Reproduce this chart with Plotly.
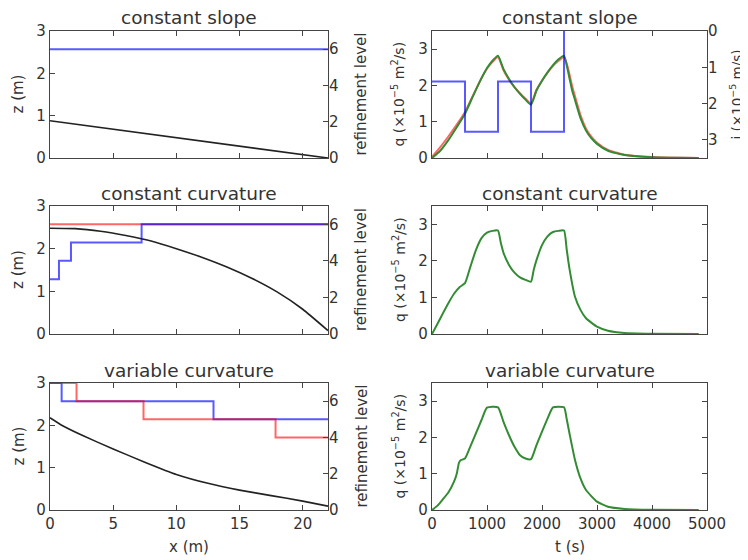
import plotly.graph_objects as go

# profils de pente : x (m), z (m)
x_slope = [0, 22]
z_slope = [0.88, 0.0]
x_curv = [0, 2, 4, 6, 8, 10, 12, 14, 16, 18, 20, 22]
z_curv = [2.48, 2.47, 2.41, 2.31, 2.18, 2.00, 1.80, 1.57, 1.30, 0.98, 0.58, 0.08]
x_var = [0, 1, 2.5, 5, 7.5, 10, 12.5, 15, 17.5, 20, 22]
z_var = [2.18, 1.99, 1.77, 1.44, 1.13, 0.84, 0.63, 0.47, 0.34, 0.21, 0.09]

# niveaux de raffinement (marches)
lev_slope_x = [0, 22]
lev_slope_blue = [6, 6]
lev_curv_red_x = [0, 22]
lev_curv_red = [6, 6]
lev_curv_blue_x = [0, 0.71, 1.66, 7.25, 22]
lev_curv_blue = [3, 4, 5, 6, 6]
lev_var_blue_x = [0, 0.92, 12.94, 22]
lev_var_blue = [7, 6, 5, 5]
lev_var_red_x = [0, 2.1, 7.4, 17.85, 22]
lev_var_red = [7, 6, 5, 4, 4]

# pluie (x1e-5 m/s)
t_rain = [0, 600, 1200, 1800, 2400]
i_rain = [1.39, 2.78, 1.39, 2.78, 0]

# hydrogrammes q (x1e-5 m2/s)
t_slope = [0, 150, 300, 450, 600, 750, 900, 1000, 1100, 1200, 1300, 1400, 1500,
           1600, 1700, 1800, 1900, 2000, 2100, 2200, 2300, 2400, 2450, 2500,
           2550, 2600, 2700, 2800, 2900, 3000, 3200, 3500, 4000, 4500, 4850]
q_slope_green = [0, 0.20, 0.50, 0.85, 1.22, 1.72, 2.20, 2.48, 2.68, 2.82, 2.45,
                 2.18, 1.95, 1.77, 1.61, 1.47, 1.86, 2.13, 2.36, 2.56, 2.72, 2.82,
                 2.55, 2.20, 1.85, 1.60, 1.10, 0.76, 0.54, 0.39, 0.20, 0.08, 0.02,
                 0.005, 0]
q_slope_red = [0.03, 0.30, 0.60, 0.92, 1.27, 1.74, 2.20, 2.46, 2.65, 2.78, 2.42,
               2.16, 1.95, 1.78, 1.63, 1.50, 1.88, 2.13, 2.35, 2.54, 2.68, 2.78,
               2.60, 2.30, 1.97, 1.70, 1.18, 0.81, 0.58, 0.42, 0.22, 0.09, 0.025,
               0.006, 0]

t_curv = [0, 100, 200, 300, 400, 500, 600, 700, 800, 900, 1000, 1100, 1200, 1250,
          1300, 1400, 1500, 1600, 1700, 1800, 1850, 1900, 2000, 2100, 2200, 2300,
          2400, 2450, 2500, 2600, 2700, 2800, 3000, 3200, 3500, 4000, 4850]
q_curv = [0, 0.28, 0.57, 0.85, 1.10, 1.28, 1.39, 1.85, 2.30, 2.62, 2.77, 2.82, 2.83,
          2.50, 2.22, 1.89, 1.68, 1.55, 1.48, 1.43, 1.76, 2.02, 2.43, 2.67, 2.79,
          2.82, 2.83, 2.30, 1.78, 1.02, 0.66, 0.43, 0.20, 0.09, 0.03, 0.01, 0]

t_var = [0, 100, 200, 300, 400, 450, 490, 520, 600, 700, 800, 900, 1000, 1200, 1300,
         1400, 1500, 1600, 1700, 1800, 1900, 2000, 2100, 2200, 2400, 2450, 2500,
         2600, 2700, 2800, 3000, 3200, 3500, 4000, 4850]
q_var = [0, 0.12, 0.30, 0.49, 0.78, 1.00, 1.30, 1.37, 1.42, 1.76, 2.12, 2.48, 2.82,
         2.83, 2.43, 2.06, 1.74, 1.51, 1.42, 1.40, 1.79, 2.16, 2.52, 2.83, 2.83,
         2.50, 2.11, 1.38, 0.87, 0.55, 0.23, 0.09, 0.03, 0.005, 0]

# la page html a une marge de 8 px : on travaille en pixels de la fenetre
OFF = 8
W, H = 748 - OFF, 560 - OFF
INK = "#333333"
FRAME = "#444444"
BLUE = "rgba(0,0,255,0.65)"
RED = "rgba(255,0,0,0.6)"
GREEN = "#338c33"
BLACK = "#222222"

# domaines en pixels (fenetre) -> fractions
cols = [(50, 328), (432, 707)]
rows = [(31, 158), (206, 334), (383, 510)]
titles = ["constant slope", "constant curvature", "variable curvature"]


def fx(px):
    return (px - OFF) / W


def fy(py):
    return 1 - (py - OFF) / H


def xdom(c):
    return [fx(cols[c][0]), fx(cols[c][1])]


def ydom(r):
    return [fy(rows[r][1]), fy(rows[r][0])]


def base_axis(**kw):
    d = dict(showgrid=False, zeroline=False, showline=True, linecolor=FRAME,
             linewidth=1.2, ticks="inside", ticklen=5, tickcolor=FRAME,
             tickfont=dict(size=15, color=INK), automargin=False, layer="above traces")
    d.update(kw)
    return d


fig = go.Figure()
layout = {}
annotations = []

profiles = [(x_slope, z_slope), (x_curv, z_curv), (x_var, z_var)]
levels = [
    [(lev_slope_x, lev_slope_blue, BLUE)],
    [(lev_curv_red_x, lev_curv_red, RED), (lev_curv_blue_x, lev_curv_blue, BLUE)],
    [(lev_var_blue_x, lev_var_blue, BLUE), (lev_var_red_x, lev_var_red, RED)],
]

for r in range(3):
    xa = r + 1          # x1..x3
    ya = r + 1          # y1..y3
    ya2 = r + 4         # y4..y6 (niveau)
    layout["xaxis%d" % xa] = base_axis(domain=xdom(0), range=[0, 22], anchor="y%d" % ya,
                                       tickvals=[0, 5, 10, 15, 20], mirror="ticks",
                                       showticklabels=(r == 2))
    layout["yaxis%d" % ya] = base_axis(domain=ydom(r), range=[0, 3], anchor="x%d" % xa,
                                       tickvals=[0, 1, 2, 3], mirror=True)
    layout["yaxis%d" % ya2] = base_axis(domain=ydom(r), range=[0, 7], anchor="x%d" % xa,
                                        overlaying="y%d" % ya, side="right",
                                        tickvals=[0, 2, 4, 6], showline=False)
    for lx, ly, col in levels[r]:
        fig.add_trace(go.Scatter(x=lx, y=ly, mode="lines", line=dict(color=col, width=2, shape="hv"),
                                 xaxis="x%d" % xa, yaxis="y%d" % ya2, showlegend=False))
    px, pz = profiles[r]
    fig.add_trace(go.Scatter(x=px, y=pz, mode="lines",
                             line=dict(color=BLACK, width=1.6, shape="spline", smoothing=0.4),
                             xaxis="x%d" % xa, yaxis="y%d" % ya, showlegend=False))

hydro = [[(t_slope, q_slope_red, RED), (t_slope, q_slope_green, GREEN)],
         [(t_curv, q_curv, GREEN)],
         [(t_var, q_var, GREEN)]]

for r in range(3):
    xa = r + 4          # x4..x6
    ya = r + 7          # y7..y9
    layout["xaxis%d" % xa] = base_axis(domain=xdom(1), range=[0, 5000], anchor="y%d" % ya,
                                       tickvals=[0, 1000, 2000, 3000, 4000, 5000], mirror="ticks",
                                       showticklabels=(r == 2))
    layout["yaxis%d" % ya] = base_axis(domain=ydom(r), range=[0, 3.5], anchor="x%d" % xa,
                                       tickvals=[0, 1, 2, 3],
                                       mirror=True if r == 0 else "ticks")
    for tt, qq, col in hydro[r]:
        fig.add_trace(go.Scatter(x=tt, y=qq, mode="lines",
                                 line=dict(color=col, width=2, shape="spline", smoothing=0.5),
                                 xaxis="x%d" % xa, yaxis="y%d" % ya, showlegend=False))

# pluie sur l'axe secondaire inverse
layout["yaxis10"] = base_axis(domain=ydom(0), range=[3.5, 0], anchor="x4", overlaying="y7",
                              side="right", tickvals=[0, 1, 2, 3], showline=False)
fig.add_trace(go.Scatter(x=t_rain, y=i_rain, mode="lines", line=dict(color=BLUE, width=2, shape="hv"),
                         xaxis="x4", yaxis="y10", showlegend=False))


def ann(text, px, py, size=15, angle=0):
    annotations.append(dict(text=text, x=fx(px), y=fy(py), xref="paper", yref="paper",
                            showarrow=False, textangle=angle, xanchor="center", yanchor="middle",
                            font=dict(size=size, color=INK)))


title_y = [18, 193, 370]
for r in range(3):
    ann(titles[r], (cols[0][0] + cols[0][1]) / 2, title_y[r], size=18.5)
    ann(titles[r], (cols[1][0] + cols[1][1]) / 2, title_y[r], size=18.5)
    yc = (rows[r][0] + rows[r][1]) / 2
    ann("z (m)", 18, yc, angle=-90)
    ann("refinement level", 361, yc, angle=-90)
    ann("q (×10<sup>−5</sup> m<sup>2</sup>/s)", 399, yc, size=14, angle=-90)
ann("i (×10<sup>−5</sup> m/s)", 737, (rows[0][0] + rows[0][1]) / 2, size=13.5, angle=-90)
ann("x (m)", (cols[0][0] + cols[0][1]) / 2, 547)
ann("t (s)", (cols[1][0] + cols[1][1]) / 2, 547)

fig.update_layout(layout)
fig.update_layout(width=W, height=H, margin=dict(l=0, r=0, t=0, b=0),
                  plot_bgcolor="white", paper_bgcolor="white",
                  font=dict(family="DejaVu Sans", color=INK),
                  annotations=annotations, showlegend=False)

fig.write_html("out.html")
